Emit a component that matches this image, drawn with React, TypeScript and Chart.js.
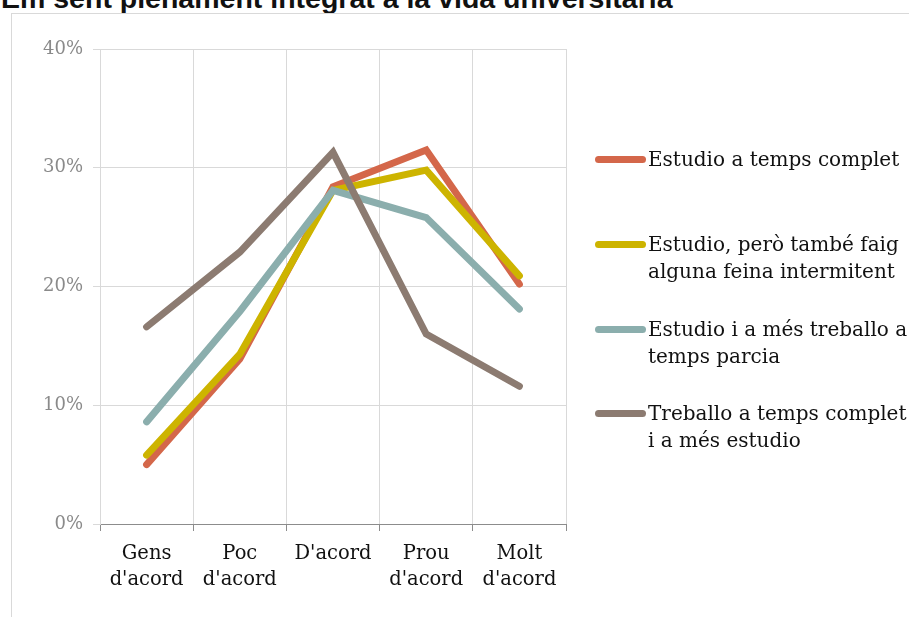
import React, { useEffect, useRef } from "react";
import { Chart, registerables } from "chart.js";

Chart.register(...registerables);

const title = "Em sent plenament integrat a la vida universitària";
const categories: string[][] = [
  ["Gens", "d'acord"],
  ["Poc", "d'acord"],
  ["D'acord"],
  ["Prou", "d'acord"],
  ["Molt", "d'acord"],
];
const seriesNames: string[][] = [
  ["Estudio a temps complet"],
  ["Estudio, però també faig", "alguna feina intermitent"],
  ["Estudio i a més treballo a", "temps parcia"],
  ["Treballo a temps complet", "i a més estudio"],
];
const seriesColors = ["#D4674A", "#CDB400", "#8BAEAD", "#8C7B71"];
const tempsComplet = [0.05, 0.139, 0.284, 0.315, 0.202];
const feinaIntermitent = [0.058, 0.143, 0.281, 0.298, 0.209];
const tempsParcial = [0.086, 0.179, 0.281, 0.258, 0.181];
const treballoComplet = [0.166, 0.229, 0.313, 0.160, 0.116];
const yTicks = [0, 0.1, 0.2, 0.3, 0.4];

const seriesData = [tempsComplet, feinaIntermitent, tempsParcial, treballoComplet];
const legendTops = [160, 245, 330, 414];

const serif = "'DejaVu Serif', serif";

export default function App() {
  const canvasRef = useRef<HTMLCanvasElement | null>(null);

  useEffect(() => {
    const canvas = canvasRef.current;
    if (!canvas) return;
    const chart = new Chart(canvas, {
      type: "line",
      data: {
        labels: categories,
        datasets: seriesData.map((d, i) => ({
          label: seriesNames[i].join(" "),
          data: d,
          borderColor: seriesColors[i],
          backgroundColor: seriesColors[i],
          borderWidth: 7,
          pointRadius: 0,
          pointHoverRadius: 0,
          tension: 0,
          fill: false,
          borderCapStyle: "round" as const,
          borderJoinStyle: "miter" as const,
          order: seriesData.length - i,
        })),
      },
      options: {
        animation: false,
        responsive: false,
        devicePixelRatio: 1,
        layout: { padding: { left: 0, top: 49, right: 343, bottom: 0 } },
        plugins: {
          legend: { display: false },
          tooltip: { enabled: false },
          title: { display: false },
        },
        scales: {
          x: {
            type: "category",
            offset: true,
            grid: {
              offset: true,
              color: "#d9d9d9",
              tickColor: "#8c8c8c",
              tickLength: 7,
            },
            border: { color: "#8c8c8c", width: 1 },
            ticks: {
              font: { family: serif, size: 19.5, lineHeight: 1.34 },
              color: "#111111",
              padding: 10,
              maxRotation: 0,
              autoSkip: false,
            },
            afterFit: (s: any) => {
              s.height = 93;
            },
          },
          y: {
            min: 0,
            max: 0.4,
            afterBuildTicks: (s: any) => {
              s.ticks = yTicks.map((v) => ({ value: v }));
            },
            grid: { color: "#d9d9d9", tickColor: "#d9d9d9", tickLength: 7 },
            border: { color: "#d9d9d9", width: 1 },
            ticks: {
              font: { family: serif, size: 18 },
              color: "#8a8a8a",
              padding: 10,
              callback: (v: any) => Math.round(Number(v) * 100) + "%",
            },
            afterFit: (s: any) => {
              s.width = 100;
            },
          },
        },
      },
    });
    return () => chart.destroy();
  }, []);

  return (
    <div
      style={{
        position: "absolute",
        left: 0,
        top: 0,
        width: 909,
        height: 617,
        overflow: "hidden",
        background: "#ffffff",
      }}
    >
      <div
        style={{
          position: "absolute",
          left: 1,
          top: -17,
          fontFamily: "'Liberation Sans', Arial, sans-serif",
          fontWeight: "bold",
          fontSize: 28.5,
          lineHeight: "30px",
          whiteSpace: "nowrap",
          color: "#111",
        }}
      >
        {title}
      </div>
      <div
        style={{
          position: "absolute",
          left: 11,
          top: 13,
          width: 1000,
          height: 1000,
          border: "1px solid #d9d9d9",
        }}
      />
      <canvas
        ref={canvasRef}
        width={909}
        height={617}
        style={{ position: "absolute", left: 0, top: 0, width: 909, height: 617 }}
      />
      {seriesNames.map((lines, i) => (
        <div
          key={i}
          style={{
            position: "absolute",
            left: 595,
            top: legendTops[i] - 14,
            display: "flex",
            alignItems: "flex-start",
          }}
        >
          <div
            style={{
              width: 51,
              height: 7,
              borderRadius: 3.5,
              background: seriesColors[i],
              marginTop: 10,
              flex: "none",
            }}
          />
          <div
            style={{
              marginLeft: 2,
              fontFamily: serif,
              fontSize: 20,
              lineHeight: "26.5px",
              color: "#111",
              whiteSpace: "nowrap",
            }}
          >
            {lines.map((l, j) => (
              <div key={j}>{l}</div>
            ))}
          </div>
        </div>
      ))}
    </div>
  );
}
